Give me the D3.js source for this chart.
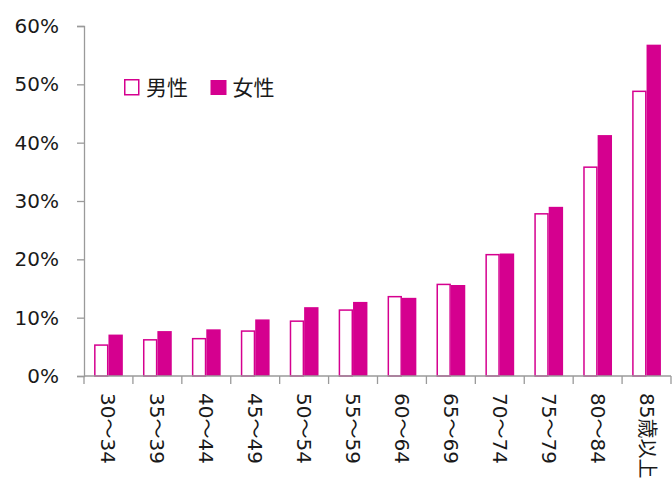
<!DOCTYPE html>
<html>
<head>
<meta charset="utf-8">
<script src="https://cdn.jsdelivr.net/npm/d3@7"></script>
<style>
  html, body { margin: 0; padding: 0; background: #fff; }
  svg { display: block; }
  text { font-family: "DejaVu Sans", Verdana, "Noto Sans CJK JP", sans-serif; fill: #1a1a1a; }
</style>
</head>
<body>
<svg id="chart" width="672" height="479"></svg>
<script>
// Age groups and rates (%) by sex
const categories = ["30～34", "35～39", "40～44", "45～49", "50～54", "55～59",
                    "60～64", "65～69", "70～74", "75～79", "80～84", "85歳以上"];
const male   = [5.3, 6.2, 6.4, 7.7, 9.4, 11.3, 13.6, 15.7, 20.8, 27.8, 35.8, 48.8];
const female = [7.1, 7.7, 8.0, 9.7, 11.8, 12.7, 13.4, 15.6, 21.0, 29.0, 41.3, 56.8];
const seriesNames = ["男性", "女性"];
const yTicks = [0, 10, 20, 30, 40, 50, 60];

const color = "#d5008f";
const axisColor = "#9a9a9a";

const svg = d3.select("#chart");
const margin = { left: 84, top: 26, right: 1, bottom: 103 };
const W = 672, H = 479;
const innerW = W - margin.left - margin.right;
const innerH = H - margin.top - margin.bottom;

const g = svg.append("g").attr("transform", `translate(${margin.left},${margin.top})`);

const x = d3.scaleBand().domain(categories).range([0, innerW]).paddingInner(0).paddingOuter(0);
const x1 = d3.scaleBand().domain(seriesNames).range([0, x.bandwidth()]).paddingOuter(0.7).paddingInner(0);
const y = d3.scaleLinear().domain([0, 60]).range([innerH, 0]);

// Y axis
const yAxis = g.append("g")
  .call(d3.axisLeft(y).tickValues(yTicks).tickSize(7).tickPadding(18).tickFormat(d => d + "%"));
yAxis.select(".domain").attr("stroke", axisColor).attr("stroke-width", 1.3);
yAxis.selectAll(".tick line").attr("stroke", axisColor).attr("stroke-width", 1.3);
yAxis.selectAll(".tick text").attr("font-size", 20).attr("fill", "#1a1a1a")
  .attr("font-family", "'DejaVu Sans', Verdana, sans-serif");

// Bars
const groups = g.selectAll(".grp").data(categories).join("g")
  .attr("transform", d => `translate(${x(d)},0)`);

groups.append("rect")
  .attr("x", x1("男性") + 0.75)
  .attr("y", (d, i) => y(male[i]))
  .attr("width", x1.bandwidth() - 1.5)
  .attr("height", (d, i) => y(0) - y(male[i]))
  .attr("fill", "#fff")
  .attr("stroke", color)
  .attr("stroke-width", 1.5);

groups.append("rect")
  .attr("x", x1("女性"))
  .attr("y", (d, i) => y(female[i]))
  .attr("width", x1.bandwidth())
  .attr("height", (d, i) => y(0) - y(female[i]))
  .attr("fill", color);

// X axis line and category separators
const xAxisG = g.append("g").attr("transform", `translate(0,${innerH})`);
xAxisG.append("line").attr("x1", 0).attr("x2", innerW).attr("y1", 0).attr("y2", 0)
  .attr("stroke", axisColor).attr("stroke-width", 1.3);
const edges = categories.map(c => x(c)).concat([x(categories[categories.length - 1]) + x.bandwidth()]);
xAxisG.selectAll(".sep").data(edges).join("line")
  .attr("x1", d => d).attr("x2", d => d).attr("y1", 0).attr("y2", 8)
  .attr("stroke", axisColor).attr("stroke-width", 1.3);

// Rotated category labels
xAxisG.selectAll(".lbl").data(categories).join("text")
  .attr("transform", d => `translate(${x(d) + x.bandwidth() / 2},${17}) rotate(90)`)
  .attr("text-anchor", "start")
  .attr("dominant-baseline", "central")
  .attr("font-size", 20)
  .text(d => d);

// Legend
const legend = svg.append("g").attr("transform", "translate(124,79)");
legend.append("rect").attr("x", 0.75).attr("y", 0.75).attr("width", 14).attr("height", 15)
  .attr("fill", "#fff").attr("stroke", color).attr("stroke-width", 1.5);
legend.append("text").attr("x", 22).attr("y", 8.5).attr("dominant-baseline", "central")
  .attr("font-size", 21).text(seriesNames[0]);
legend.append("rect").attr("x", 86.5).attr("y", 1).attr("width", 16).attr("height", 15)
  .attr("fill", color);
legend.append("text").attr("x", 108.5).attr("y", 8.5).attr("dominant-baseline", "central")
  .attr("font-size", 21).text(seriesNames[1]);
</script>
</body>
</html>
